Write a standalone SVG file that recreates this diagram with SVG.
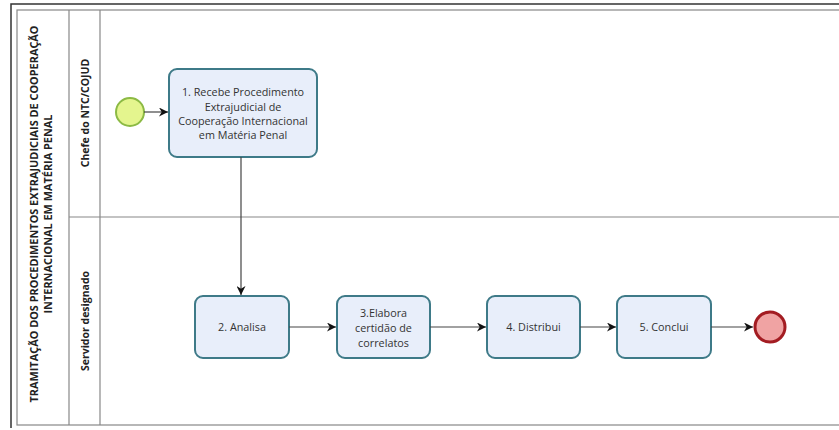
<svg xmlns="http://www.w3.org/2000/svg" width="839" height="430" viewBox="0 0 839 430">
<style>
.lbl{font-family:"Open Sans","Noto Sans","Liberation Sans",sans-serif;font-size:10.8px;fill:#333;text-anchor:middle}
.hdr{font-family:"Open Sans","Noto Sans","Liberation Sans",sans-serif;font-size:10.5px;font-weight:bold;fill:#222;text-anchor:middle}
.ttl{font-size:10.9px}
.task{fill:#e8eefa;stroke:#3e7a88;stroke-width:2}
.frame{fill:none;stroke:#888;stroke-width:1.2}
.flow{stroke:#444;stroke-width:1.2;fill:none;marker-end:url(#arr)}
</style>
<defs>
<marker id="arr" viewBox="0 0 10 10" refX="10" refY="5" markerWidth="9" markerHeight="9" markerUnits="userSpaceOnUse" orient="auto">
<path d="M0,0 L10,5 L0,10 L3,5 Z" fill="#111"/>
</marker>
</defs>
<rect width="839" height="430" fill="#fff"/>
<g id="pool">
<path d="M11,428 L11,4 L839,4" fill="none" stroke="#333" stroke-width="1.5"/>
<rect x="17" y="10" width="830" height="415" class="frame"/>
<line x1="69" y1="10" x2="69" y2="425" class="frame"/>
<line x1="100" y1="10" x2="100" y2="425" class="frame"/>
<line x1="69" y1="217" x2="839" y2="217" class="frame"/>
<text class="hdr ttl" transform="translate(38,214) rotate(-90)">TRAMITAÇÃO DOS PROCEDIMENTOS EXTRAJUDICIAIS DE COOPERAÇÃO</text>
<text class="hdr ttl" transform="translate(52,214) rotate(-90)">INTERNACIONAL EM MATÉRIA PENAL</text>
<text class="hdr" transform="translate(89,113) rotate(-90)">Chefe do NTC/COJUD</text>
<text class="hdr" transform="translate(89,321) rotate(-90)">Servidor designado</text>
</g>
<g id="start"><circle cx="130" cy="112" r="14" fill="#e4f58e" stroke="#8cba44" stroke-width="2"/></g>
<g id="task1"><rect x="169" y="69" width="148" height="88" rx="8" class="task"/>
<text class="lbl" x="243" y="96">1. Recebe Procedimento</text>
<text class="lbl" x="243" y="111">Extrajudicial de</text>
<text class="lbl" x="243" y="125">Cooperação Internacional</text>
<text class="lbl" x="243" y="139">em Matéria Penal</text></g>
<g id="task2"><rect x="195" y="296" width="94" height="62" rx="8" class="task"/>
<text class="lbl" x="242" y="331">2. Analisa</text></g>
<g id="task3"><rect x="337" y="296" width="93" height="62" rx="8" class="task"/>
<text class="lbl" x="383.5" y="317">3.Elabora</text>
<text class="lbl" x="383.5" y="332">certidão de</text>
<text class="lbl" x="383.5" y="347">correlatos</text></g>
<g id="task4"><rect x="487" y="296" width="93" height="62" rx="8" class="task"/>
<text class="lbl" x="533.5" y="331">4. Distribui</text></g>
<g id="task5"><rect x="617" y="296" width="94" height="62" rx="8" class="task"/>
<text class="lbl" x="664" y="331">5. Conclui</text></g>
<g id="end"><circle cx="770" cy="327" r="15" fill="#f0a3a3" stroke="#a31c22" stroke-width="3"/></g>
<g id="connectors">
<line x1="144" y1="112" x2="168" y2="112" class="flow"/>
<line x1="241" y1="157" x2="241" y2="295" class="flow"/>
<line x1="289" y1="327" x2="336" y2="327" class="flow"/>
<line x1="430" y1="327" x2="486" y2="327" class="flow"/>
<line x1="580" y1="327" x2="616" y2="327" class="flow"/>
<line x1="711" y1="327" x2="753" y2="327" class="flow"/>
</g>
</svg>
